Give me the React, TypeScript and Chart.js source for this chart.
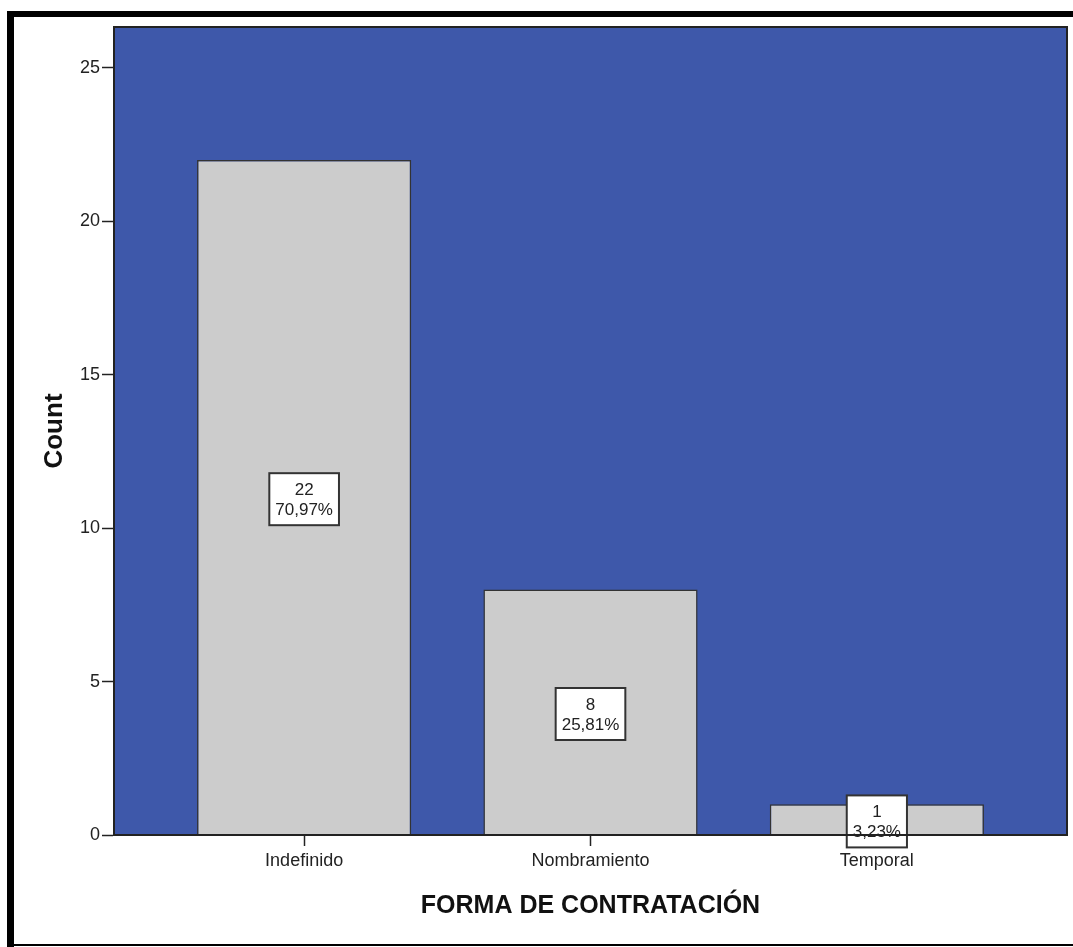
import React, { useEffect, useRef } from "react";
import { Chart, registerables } from "chart.js";
Chart.register(...registerables);

const categories = ["Indefinido", "Nombramiento", "Temporal"];
const counts = [22, 8, 1];
const yTicks = [0, 5, 10, 15, 20, 25];
const xTitle = "FORMA DE CONTRATACIÓN";
const yTitle = "Count";

const FONT = "'Liberation Sans', Arial, sans-serif";
const BLUE = "#3E58AA";
const DARK = "#222222";

export default function App() {
  const ref = useRef<HTMLCanvasElement>(null);
  useEffect(() => {
    const total = counts.reduce((a, b) => a + b, 0);
    const plugin = {
      id: "spssLook",
      beforeDraw(chart: any) {
        const { ctx, chartArea: a } = chart;
        ctx.save();
        ctx.fillStyle = "#ffffff";
        ctx.fillRect(0, 0, chart.width, chart.height);
        ctx.fillStyle = BLUE;
        ctx.fillRect(a.left, a.top, a.right - a.left, a.bottom - a.top);
        ctx.restore();
      },
      afterDatasetsDraw(chart: any) {
        const { ctx } = chart;
        const meta = chart.getDatasetMeta(0);
        ctx.save();
        ctx.font = `17px ${FONT}`;
        meta.data.forEach((bar: any, i: number) => {
          const { x, y, base } = bar.getProps(["x", "y", "base"], true);
          const mid = (y + base) / 2 + 2;
          const v = counts[i];
          const pct = ((v / total) * 100).toFixed(2).replace(".", ",") + "%";
          const lines = [String(v), pct];
          const w = Math.max(...lines.map((l) => ctx.measureText(l).width)) + 12;
          const h = 52;
          ctx.fillStyle = "#ffffff";
          ctx.fillRect(x - w / 2, mid - h / 2, w, h);
          ctx.strokeStyle = "#333333";
          ctx.lineWidth = 2;
          ctx.strokeRect(x - w / 2, mid - h / 2, w, h);
          ctx.fillStyle = DARK;
          ctx.textAlign = "center";
          ctx.textBaseline = "middle";
          ctx.fillText(lines[0], x, mid - 9);
          ctx.fillText(lines[1], x, mid + 11);
        });
        ctx.restore();
      },
      afterDraw(chart: any) {
        const { ctx, chartArea: a } = chart;
        ctx.save();
        ctx.strokeStyle = DARK;
        ctx.lineWidth = 2;
        ctx.strokeRect(a.left, a.top, a.right - a.left, a.bottom - a.top);
        // titles
        ctx.fillStyle = "#111111";
        ctx.textAlign = "center";
        ctx.textBaseline = "alphabetic";
        ctx.font = `bold 25px ${FONT}`;
        ctx.fillText(xTitle, (a.left + a.right) / 2, 913);
        ctx.translate(62, 431);
        ctx.rotate(-Math.PI / 2);
        ctx.font = `bold 26px ${FONT}`;
        ctx.fillText(yTitle, 0, 0);
        ctx.setTransform(1, 0, 0, 1, 0, 0);
        // outer frame
        ctx.fillStyle = "#000000";
        ctx.fillRect(7, 11, chart.width - 7, 6);
        ctx.fillRect(7, 11, 7, chart.height - 11);
        ctx.fillRect(7, 944, chart.width - 7, 2);
        ctx.restore();
      },
    };

    const chart = new Chart(ref.current as HTMLCanvasElement, {
      type: "bar",
      data: {
        datasets: [
          {
            data: counts.map((v, i) => ({ x: i, y: v })),
            backgroundColor: "#CCCCCC",
            borderColor: "#333333",
            borderWidth: 1.5,
            categoryPercentage: 1,
            barPercentage: 0.748,
          },
        ],
      },
      options: {
        responsive: false,
        animation: false,
        devicePixelRatio: 1,
        layout: { padding: { top: 27, right: 6, left: 0, bottom: 0 } },
        plugins: { legend: { display: false }, tooltip: { enabled: false } },
        scales: {
          x: {
            type: "linear",
            offset: false,
            min: -0.664,
            max: 2.664,
            afterBuildTicks: (s: any) => {
              s.ticks = categories.map((_, i) => ({ value: i }));
            },
            afterFit: (s: any) => {
              s.height = 112;
            },
            ticks: {
              autoSkip: false,
              maxRotation: 0,
              color: DARK,
              font: { family: FONT, size: 18 },
              padding: 4,
              callback: (v: any) => categories[v] ?? "",
            },
            grid: {
              offset: false,
              drawOnChartArea: false,
              drawTicks: true,
              tickLength: 11,
              tickColor: DARK,
              tickWidth: 1.5,
            },
            border: { display: true, color: DARK, width: 2 },
          },
          y: {
            min: 0,
            max: 26.33,
            afterBuildTicks: (s: any) => {
              s.ticks = yTicks.map((v) => ({ value: v }));
            },
            afterFit: (s: any) => {
              s.width = 114;
            },
            ticks: {
              color: DARK,
              font: { family: FONT, size: 18 },
              padding: 2,
            },
            grid: {
              drawOnChartArea: false,
              drawTicks: true,
              tickLength: 12,
              tickColor: DARK,
              tickWidth: 1.5,
            },
            border: { display: true, color: DARK, width: 2 },
          },
        },
      },
      plugins: [plugin],
    } as any);
    return () => chart.destroy();
  }, []);
  return (
    <div style={{ position: "absolute", left: 0, top: 0, width: 1073, height: 947 }}>
      <canvas ref={ref} width={1073} height={947} style={{ display: "block", width: 1073, height: 947 }} />
    </div>
  );
}
